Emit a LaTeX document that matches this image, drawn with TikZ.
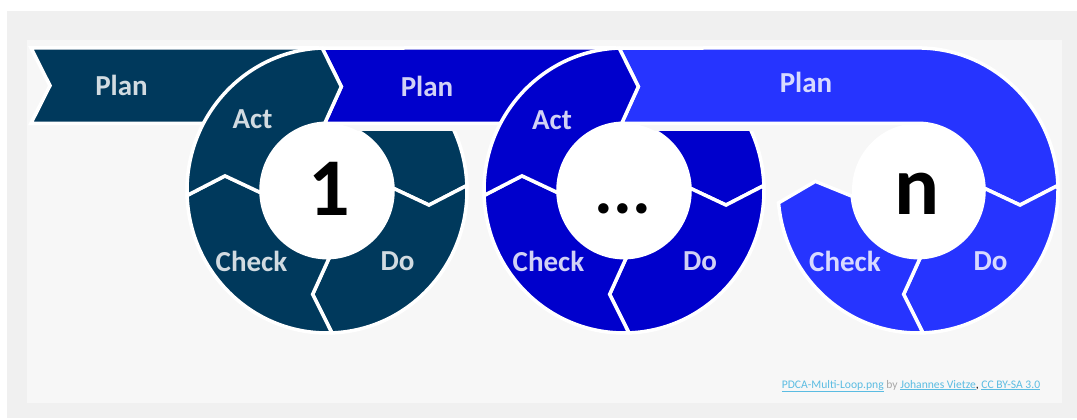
\documentclass[tikz,border=0pt]{standalone}
\usepackage{fontspec}
\setmainfont{Carlito}
\usetikzlibrary{calc}
\definecolor{cdark}{HTML}{00395C}
\definecolor{cblue}{HTML}{0000CC}
\definecolor{cbright}{HTML}{2634FF}
\definecolor{bgout}{HTML}{F0F0F0}
\definecolor{bgin}{HTML}{F7F7F7}
\definecolor{linkc}{HTML}{5BBCE2}
\definecolor{bygray}{HTML}{A8A8A8}
\tikzset{
  seg/.style={draw=white, line width=3.5pt, line join=miter},
  lbl/.style={text=white, text opacity=0.82, font=\bfseries\fontsize{29}{29}\selectfont, inner sep=0pt},
  bignum/.style={text=black, font=\bfseries\fontsize{#1}{#1}\selectfont, inner sep=0pt},
}
% #1 centre, #2 tail angle, #3 head angle, #4 fill colour
\newcommand{\pdseg}[4]{%
  \path[seg, fill=#4] ($(#1)+(#2:140)$) arc[start angle=#2, end angle=#3, radius=140]
    -- ($(#1)+(#3-10:103)$) -- ($(#1)+(#3:66)$)
    arc[start angle=#3, end angle=#2, radius=66]
    -- ($(#1)+(#2-10:103)$) -- cycle;}
\begin{document}
\begin{tikzpicture}[x=1pt, y=1.018pt]
\useasboundingbox (0,0) rectangle (1077,411.59);
% background
\fill[white] (0,0) rectangle (1077,411.59);
\fill[bgout] (7,1) rectangle (1077,400.8);
\fill[bgin] (27,15.7) rectangle (1062,372.3);
% centres
\coordinate (c1) at (327,224.5);
\coordinate (c2) at (624,224.5);
\coordinate (c3) at (918,224.5);
% inner discs
\fill[white] (c1) circle[radius=66];
\fill[white] (c2) circle[radius=66];
\fill[white] (c3) circle[radius=66];
% Plan bands
\path[seg, fill=cdark] (31,364.5) -- ($(c1)+(-10,140)$) -- ($(c1)+(-10,66)$) -- (31,290.5) -- (50,327.5) -- cycle;
\path[seg, fill=cblue] ($(c1)+(92:140)$) -- ($(c2)+(-10,140)$) -- ($(c2)+(-10,66)$)
   -- ($(c1)+(92:66)$) -- ($(c1)+(82:103)$) -- cycle;
\path[seg, fill=cbright] ($(c2)+(92:140)$) -- ($(c3)+(90:140)$)
   arc[start angle=90, end angle=2, radius=140] -- ($(c3)+(-8:103)$) -- ($(c3)+(2:66)$)
   arc[start angle=2, end angle=90, radius=66]
   -- ($(c2)+(92:66)$) -- ($(c2)+(82:103)$) -- cycle;
% circle 1
\begin{scope}
  \clip ($(c1)+(-150,-150)$) rectangle ($(c1)+(150,58)$);
  \pdseg{c1}{92}{2}{cdark}
\end{scope}
\pdseg{c1}{2}{-88}{cdark}
\pdseg{c1}{-88}{-178}{cdark}
\pdseg{c1}{182}{92}{cdark}
% circle 2
\begin{scope}
  \clip ($(c2)+(-150,-150)$) rectangle ($(c2)+(150,58)$);
  \pdseg{c2}{92}{2}{cblue}
\end{scope}
\pdseg{c2}{2}{-88}{cblue}
\pdseg{c2}{-88}{-178}{cblue}
\pdseg{c2}{182}{92}{cblue}
% circle 3
\pdseg{c3}{2}{-88}{cbright}
\pdseg{c3}{-88}{-175}{cbright}
% labels
\node[lbl] (plan1) at (121.5,328.1) {Plan};
\node[lbl] (act1) at (252.5,294.7) {Act};
\node[lbl] (plan2) at (427,327.1) {Plan};
\node[lbl] (act2) at (552,293.7) {Act};
\node[lbl] (plan3) at (806,331) {Plan};
\node[lbl] (check1) at (251.5,155.2) {Check};
\node[lbl] (do1) at (397.5,155.2) {Do};
\node[lbl] (check2) at (548.5,155.2) {Check};
\node[lbl] (do2) at (700,155.2) {Do};
\node[lbl] (check3) at (845,155.2) {Check};
\node[lbl] (do3) at (990.5,155.2) {Do};
\node[bignum=82] (num1) at (329.5,226.4) {1};
\node[bignum=70] (dots) at (623,206.3) {...};
\node[bignum=84] (numn) at (917.5,221) {n};
\node[inner sep=0pt, font=\fontsize{11.6}{11.6}\selectfont] (attr) at (911,32.4)
  {\textcolor{linkc}{\underline{PDCA-Multi-Loop.png}} \textcolor{bygray}{by} \textcolor{linkc}{\underline{Johannes Vietze}}, \textcolor{linkc}{\underline{CC BY-SA 3.0}}};
\end{tikzpicture}
\end{document}
